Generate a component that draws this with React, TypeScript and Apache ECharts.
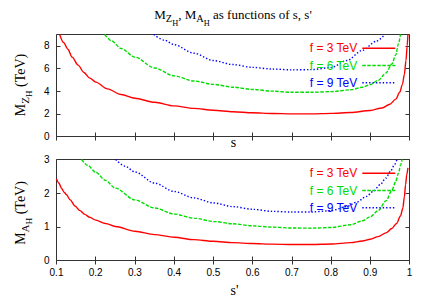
import React, { useEffect, useRef } from "react";
import * as echarts from "echarts";

// ---------- data ----------
const seriesNames = ["f = 3 TeV", "f = 6 TeV", "f = 9 TeV"];
const xMin = 0.1;
const xMax = 1;
const xStep = 0.1;
const topYMax = 9;
const topYStep = 2;
const botYMax = 3;
const botYStep = 1;

// M_ZH (TeV) versus s
const mzF3: [number, number][] = [
  [0.108, 9.0], [0.118, 8.3], [0.129, 7.7], [0.14, 7.0], [0.155, 6.3], [0.17, 5.65],
  [0.185, 5.15], [0.2, 4.8], [0.23, 4.2], [0.265, 3.7], [0.3, 3.38], [0.35, 3.02],
  [0.4, 2.7], [0.45, 2.48], [0.5, 2.32], [0.55, 2.18], [0.6, 2.09], [0.65, 2.03],
  [0.7, 2.0], [0.75, 2.0], [0.8, 2.04], [0.85, 2.12], [0.9, 2.3], [0.93, 2.52],
  [0.95, 2.85], [0.965, 3.3], [0.975, 3.9], [0.982, 4.6], [0.987, 5.5], [0.991, 6.7],
  [0.994, 8.0], [0.996, 9.0],
];
const mzF6: [number, number][] = [
  [0.223, 9.0], [0.24, 8.45], [0.265, 7.76], [0.3, 7.0], [0.35, 6.05], [0.4, 5.35],
  [0.45, 4.9], [0.5, 4.6], [0.55, 4.35], [0.6, 4.15], [0.65, 4.0], [0.7, 3.9],
  [0.75, 3.9], [0.8, 3.96], [0.85, 4.12], [0.88, 4.35], [0.9, 4.58], [0.92, 4.95],
  [0.94, 5.6], [0.955, 6.4], [0.965, 7.2], [0.972, 8.2], [0.977, 9.0],
];
const mzF9: [number, number][] = [
  [0.348, 9.0], [0.375, 8.5], [0.4, 8.1], [0.45, 7.35], [0.5, 6.7], [0.55, 6.35],
  [0.6, 6.1], [0.65, 5.95], [0.7, 5.88], [0.75, 5.9], [0.8, 6.08], [0.84, 6.7],
  [0.88, 7.6], [0.915, 8.4], [0.937, 9.0],
];

// M_AH (TeV) versus s'
const maF3: [number, number][] = [
  [0.1, 2.43], [0.106, 2.3], [0.113, 2.14], [0.12, 2.02], [0.125, 1.96], [0.135, 1.8],
  [0.147, 1.62], [0.16, 1.48], [0.172, 1.37], [0.185, 1.28], [0.2, 1.2], [0.225, 1.1],
  [0.25, 1.01], [0.3, 0.87], [0.35, 0.77], [0.4, 0.69], [0.45, 0.62], [0.5, 0.57],
  [0.55, 0.53], [0.6, 0.505], [0.65, 0.485], [0.7, 0.475], [0.75, 0.475], [0.8, 0.49],
  [0.85, 0.53], [0.88, 0.58], [0.9, 0.63], [0.92, 0.71], [0.94, 0.82], [0.955, 0.95],
  [0.967, 1.1], [0.977, 1.32], [0.983, 1.55], [0.987, 1.9], [0.99, 2.25], [0.993, 2.55],
  [0.996, 2.75],
];
const maF6: [number, number][] = [
  [0.164, 3.0], [0.18, 2.82], [0.2, 2.62], [0.225, 2.38], [0.25, 2.15], [0.3, 1.8],
  [0.35, 1.56], [0.4, 1.38], [0.45, 1.26], [0.5, 1.16], [0.55, 1.09], [0.6, 1.03],
  [0.65, 0.99], [0.7, 0.965], [0.75, 0.96], [0.8, 0.98], [0.85, 1.06], [0.88, 1.18],
  [0.9, 1.3], [0.92, 1.48], [0.94, 1.77], [0.955, 2.08], [0.965, 2.35], [0.972, 2.6],
  [0.977, 2.82], [0.981, 3.0],
];
const maF9: [number, number][] = [
  [0.251, 3.0], [0.275, 2.8], [0.3, 2.63], [0.35, 2.3], [0.4, 2.05], [0.45, 1.86],
  [0.5, 1.71], [0.55, 1.6], [0.6, 1.52], [0.65, 1.46], [0.7, 1.44], [0.75, 1.44],
  [0.8, 1.48], [0.84, 1.6], [0.865, 1.73], [0.89, 1.9], [0.907, 2.05], [0.925, 2.25],
  [0.94, 2.45], [0.952, 2.66], [0.962, 2.85], [0.968, 3.0],
];

// ---------- styles ----------
const seriesColors = ["#ff0000", "#00dd00", "#0000ff"];
const seriesDash: any[] = ["solid", [3.5, 1.5], [1.4, 2]];
const frameColor = "#333";
const SANS = "Liberation Sans";
const SERIF = "Liberation Serif";

const mathRich = (size: number) => ({
  m: { fontFamily: SERIF, fontSize: size, lineHeight: size, verticalAlign: "top", fill: "#000" },
  s: {
    fontFamily: SERIF, fontSize: size * 0.8, lineHeight: size * 0.8,
    padding: [size * 0.43, 0, 0, 0], verticalAlign: "top", fill: "#000",
  },
  ss: {
    fontFamily: SERIF, fontSize: size * 0.64, lineHeight: size * 0.64,
    padding: [size * 0.82, 0, 0, 0], verticalAlign: "top", fill: "#000",
  },
});

export default function App() {
  const ref = useRef<HTMLDivElement>(null);

  useEffect(() => {
    const chart = echarts.init(ref.current!, null, { renderer: "svg" });

    const fmt = (v: number) => String(Math.round(v * 10) / 10);

    const xAxis = (gridIndex: number, position: string, showLabels: boolean) => ({
      type: "value",
      gridIndex,
      position,
      min: xMin,
      max: xMax,
      interval: xStep,
      axisLine: { show: false },
      splitLine: { show: false },
      axisTick: { show: true, inside: true, length: 4, lineStyle: { color: frameColor, width: 1 } },
      axisLabel: {
        show: showLabels, margin: 7, fontFamily: SANS, fontSize: 10, color: "#000",
        formatter: fmt, showMaxLabel: true, showMinLabel: true,
      },
    });
    const yAxis = (gridIndex: number, position: string, showLabels: boolean, max: number, step: number) => ({
      type: "value",
      gridIndex,
      position,
      min: 0,
      max,
      interval: step,
      axisLine: { show: false },
      splitLine: { show: false },
      axisTick: { show: true, inside: true, length: 4, lineStyle: { color: frameColor, width: 1 } },
      axisLabel: {
        show: showLabels, margin: 7, fontFamily: SANS, fontSize: 10, color: "#000",
        formatter: (v: number) => (v % step === 0 ? String(v) : ""),
      },
    });

    const mk = (name: string, i: number, data: [number, number][], axisIdx: number) => ({
      type: "line",
      name,
      xAxisIndex: axisIdx,
      yAxisIndex: axisIdx,
      data,
      color: seriesColors[i],
      symbol: "none",
      showSymbol: false,
      smooth: 0.3,
      smoothMonotone: "x",
      clip: true,
      silent: true,
      lineStyle: { color: seriesColors[i], width: 1.4, type: seriesDash[i] },
    });

    const legend = (top: number) => ({
      data: seriesNames.map((n, i) => ({ name: n, textStyle: { color: seriesColors[i] } })),
      orient: "vertical",
      right: 29,
      top,
      align: "right",
      padding: 0,
      itemWidth: 33,
      itemHeight: 12,
      itemGap: 5.2,
      selectedMode: false,
      textStyle: { fontFamily: SANS, fontSize: 12, lineHeight: 12 },
      lineStyle: { width: 1.4 },
      itemStyle: { opacity: 0, borderWidth: 0 },
    });

    const option: any = {
      animation: false,
      backgroundColor: "#fff",
      grid: [
        { left: 56.5, top: 34.5, width: 353, height: 102, show: true, borderColor: frameColor, borderWidth: 1 },
        { left: 56.5, top: 159.5, width: 353, height: 101, show: true, borderColor: frameColor, borderWidth: 1 },
      ],
      xAxis: [
        xAxis(0, "bottom", false),
        xAxis(1, "bottom", true),
        xAxis(0, "top", false),
        xAxis(1, "top", false),
      ],
      yAxis: [
        yAxis(0, "left", true, topYMax, topYStep),
        yAxis(1, "left", true, botYMax, botYStep),
        yAxis(0, "right", false, topYMax, topYStep),
        yAxis(1, "right", false, botYMax, botYStep),
      ],
      legend: [legend(42.3), legend(167.3)],
      series: [
        mk(seriesNames[0], 0, mzF3, 0),
        mk(seriesNames[1], 1, mzF6, 0),
        mk(seriesNames[2], 2, mzF9, 0),
        mk(seriesNames[0], 0, maF3, 1),
        mk(seriesNames[1], 1, maF6, 1),
        mk(seriesNames[2], 2, maF9, 1),
      ],
      graphic: [
        {
          type: "text", x: 233, y: 8.4,
          style: {
            text: "{m|M}{s|Z}{ss|H}{m|, M}{s|A}{ss|H}{m| as functions of s, s'}",
            rich: mathRich(13), align: "center", verticalAlign: "top",
          },
        },
        {
          type: "text", x: 13.2, y: 85, rotation: Math.PI / 2,
          style: {
            text: "{m|M}{s|Z}{ss|H}{m| (TeV)}",
            rich: mathRich(14), align: "center", verticalAlign: "top",
          },
        },
        {
          type: "text", x: 13.2, y: 213, rotation: Math.PI / 2,
          style: {
            text: "{m|M}{s|A}{ss|H}{m| (TeV)}",
            rich: mathRich(14), align: "center", verticalAlign: "top",
          },
        },
        {
          type: "text", x: 233.5, y: 142,
          style: { text: "s", fontFamily: SERIF, fontSize: 14, fill: "#000", align: "center", verticalAlign: "middle" },
        },
        {
          type: "text", x: 234.5, y: 290,
          style: { text: "s'", fontFamily: SERIF, fontSize: 14, fill: "#000", align: "center", verticalAlign: "middle" },
        },
      ],
    };

    chart.setOption(option);
    return () => chart.dispose();
  }, []);

  return (
    <div
      ref={ref}
      style={{ position: "absolute", left: 0, top: 0, width: 425, height: 297, background: "#fff" }}
    />
  );
}
